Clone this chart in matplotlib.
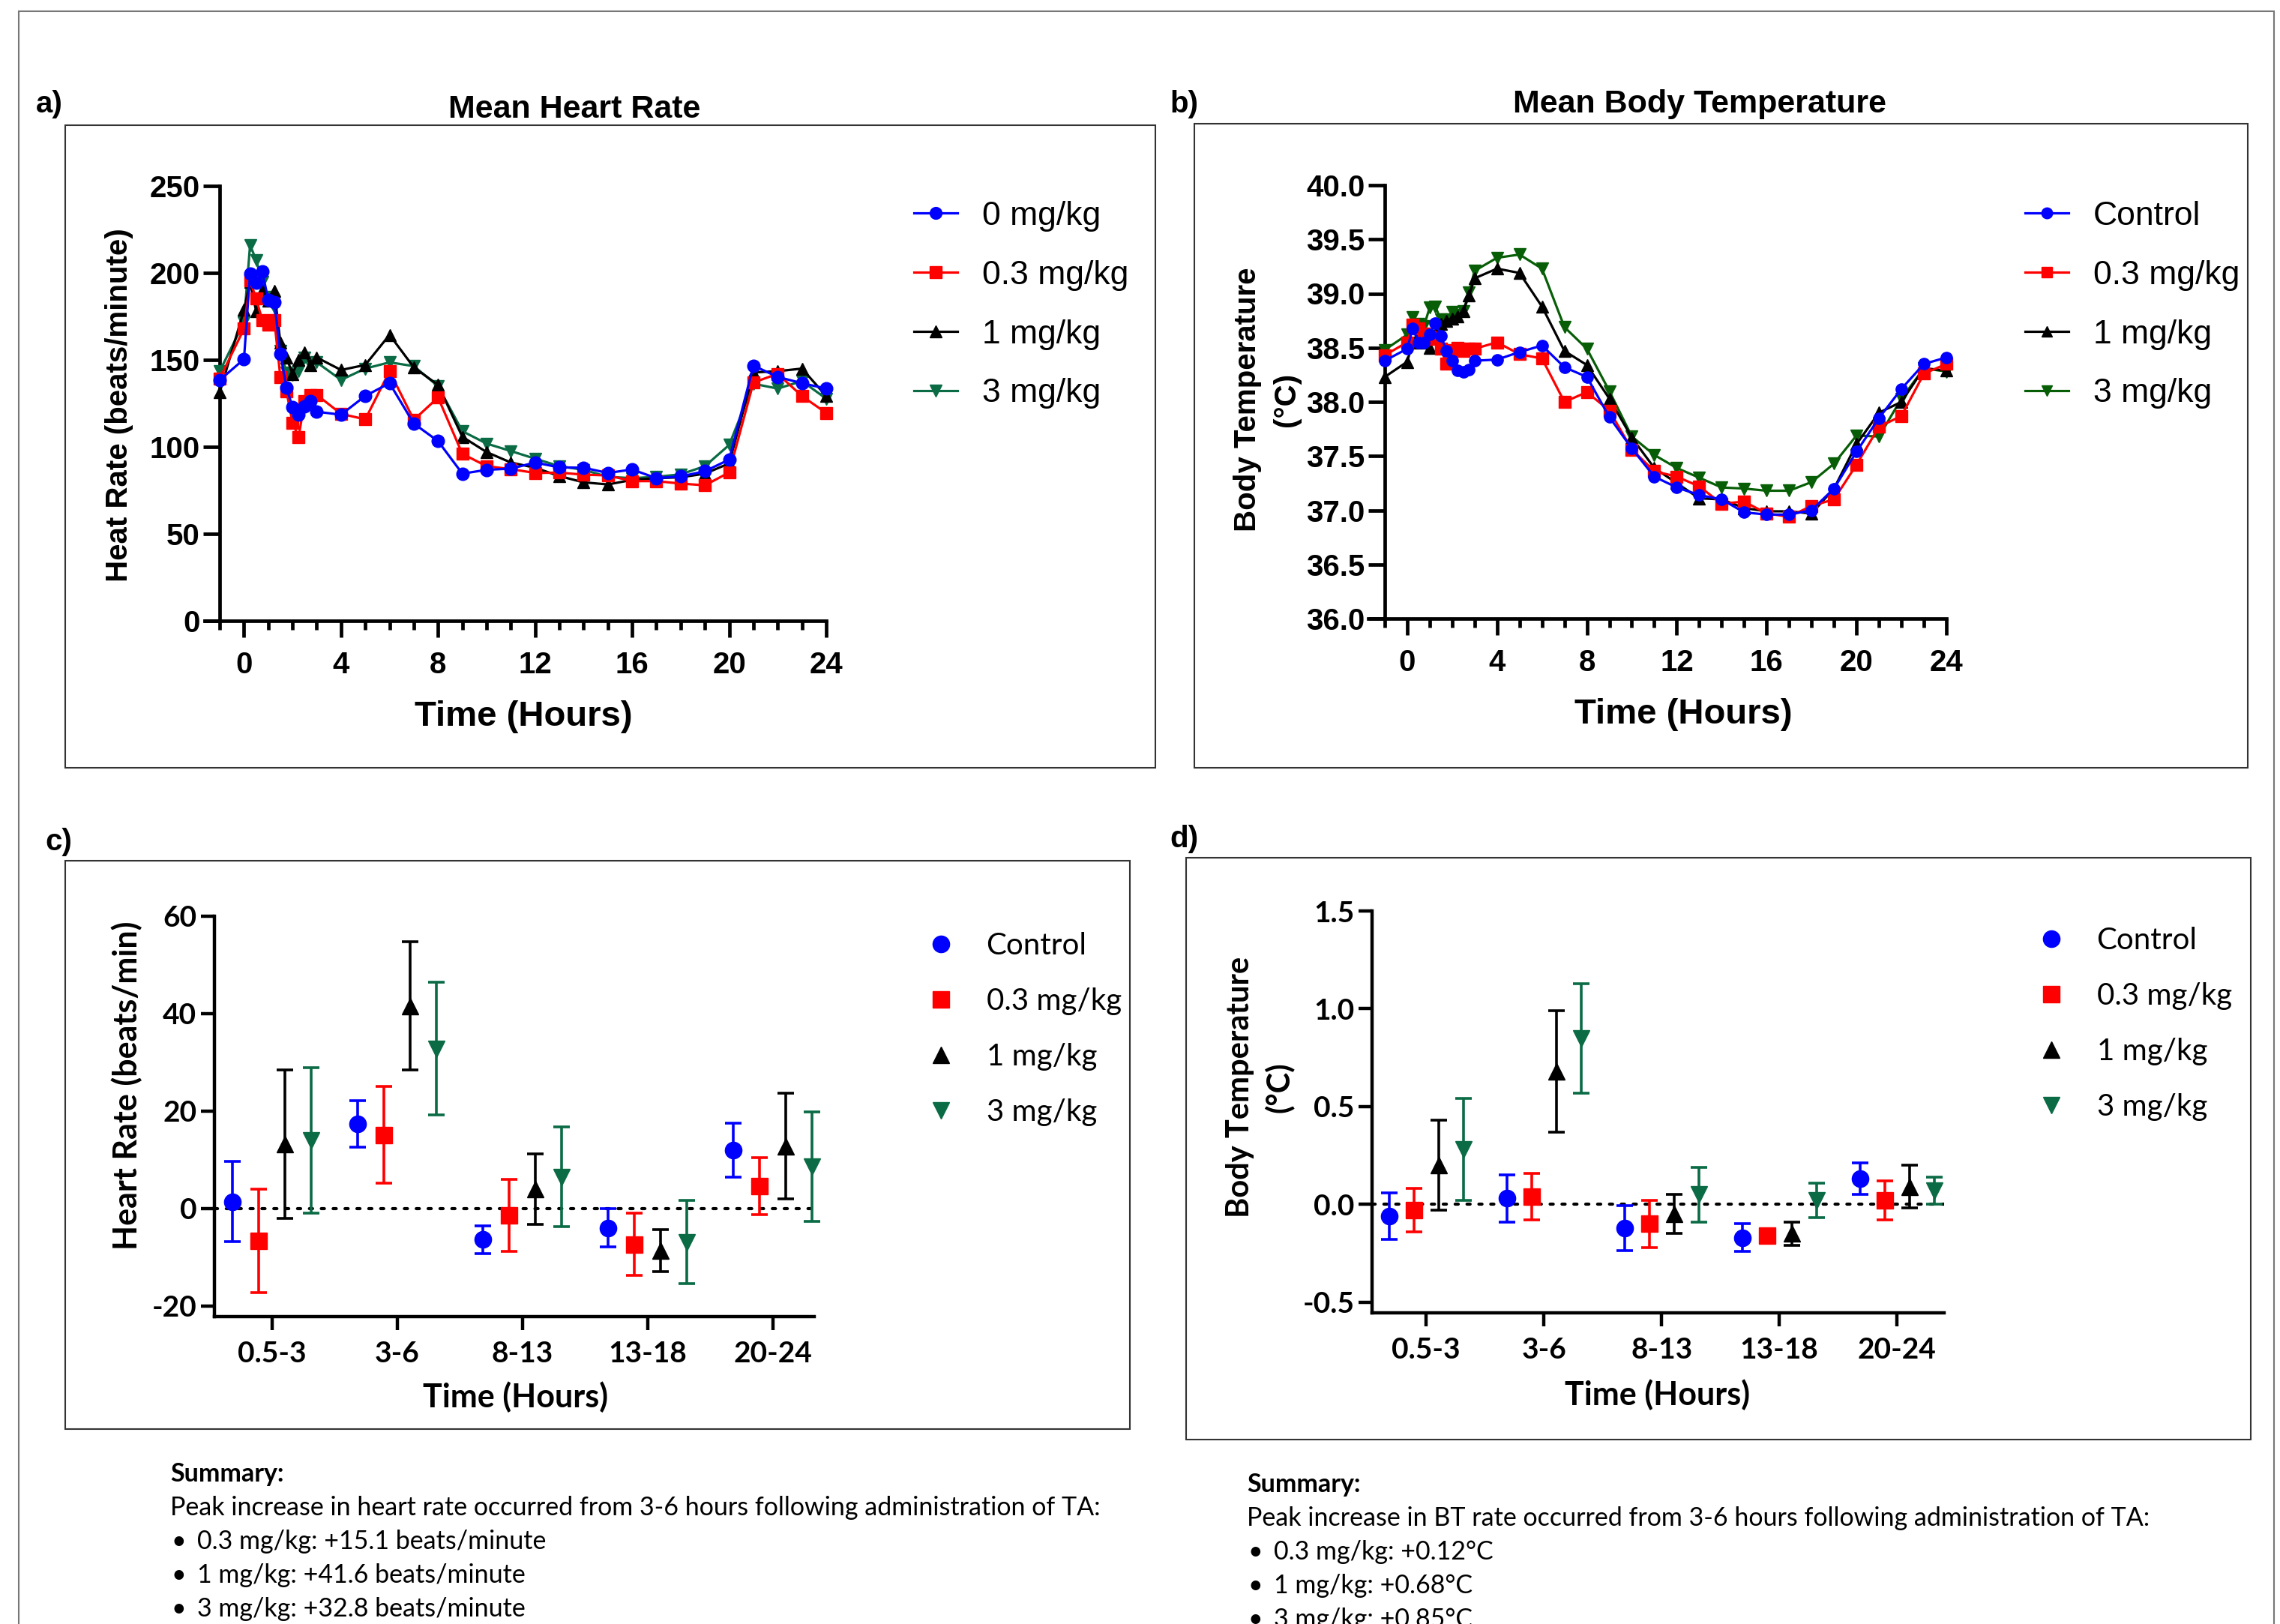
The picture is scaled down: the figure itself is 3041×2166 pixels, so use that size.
import matplotlib
matplotlib.use('Agg')
import matplotlib.pyplot as plt
from matplotlib.lines import Line2D
from matplotlib.patches import Rectangle
from matplotlib.ticker import MultipleLocator, FormatStrFormatter

plt.rcParams['axes.unicode_minus'] = False

W, H = 3041, 2166
def fx(x): return x / W
def fy(y): return 1 - y / H

# ---------------- data ----------------
time_h = [-1, 0, 0.25, 0.5, 0.75, 1, 1.25, 1.5, 1.75, 2, 2.25, 2.5, 2.75, 3,
          4, 5, 6, 7, 8, 9, 10, 11, 12, 13, 14, 15, 16, 17, 18, 19, 20, 21, 22, 23, 24]

hr_0 = [138.4, 150.4, 199.6, 194.5, 201, 184.5, 183.3, 153.6, 134, 122.9, 118.5, 123.4, 126.3, 120.2,
        118.5, 129.3, 136.6, 113.4, 103.3, 84.6, 86.8, 87.5, 91, 88.2, 88, 85, 87, 82, 83, 86, 92.7,
        146.7, 140.2, 136.6, 133.5]
hr_03 = [139.2, 167.9, 195.6, 185.3, 173, 170.2, 173, 140, 132, 114, 105.5, 126.3, 129.9, 129.9,
         119, 115.8, 143.5, 115.5, 128.4, 96, 88.9, 87.2, 85, 85.2, 84, 83.6, 80.3, 80.3, 78.9, 77.9, 85.3,
         137, 142, 129.2, 119.5]
hr_1 = [131.3, 178.7, 195, 178, 190, 184, 189.5, 160, 151.4, 142, 150, 154.3, 147.1, 151.4,
        144.2, 147.1, 164.4, 145.7, 135.6, 105.8, 97, 91, 88, 83.2, 79.6, 78.4, 81, 82, 82.5, 84.6, 90.5,
        142.8, 143.5, 145, 129.2]
hr_3 = [143.5, 171.6, 216, 207.5, 195, 186, 180, 155, 142.8, 141.4, 143.5, 151.4, 147.1, 148.6,
        138.5, 145, 148.6, 146.4, 134.9, 109, 101.9, 97.6, 93.2, 88.9, 86.8, 82.8, 82, 82.8, 84.2, 88.9, 101.1,
        136.3, 133.5, 137.8, 127.7]

bt_0 = [38.38, 38.49, 38.68, 38.55, 38.55, 38.62, 38.73, 38.61, 38.47, 38.38, 38.29, 38.28, 38.30, 38.38,
        38.39, 38.46, 38.52, 38.32, 38.23, 37.86, 37.57, 37.31, 37.21, 37.14, 37.10, 36.98, 36.96, 36.96,
        37.00, 37.20, 37.54, 37.85, 38.12, 38.35, 38.41]
bt_03 = [38.43, 38.55, 38.71, 38.68, 38.63, 38.60, 38.58, 38.49, 38.35, 38.48, 38.50, 38.47, 38.49, 38.49,
         38.55, 38.44, 38.40, 38.00, 38.09, 37.92, 37.56, 37.36, 37.31, 37.22, 37.06, 37.08, 36.97, 36.94,
         37.04, 37.10, 37.42, 37.77, 37.87, 38.26, 38.35]
bt_1 = [38.23, 38.37, 38.55, 38.62, 38.55, 38.50, 38.62, 38.72, 38.75, 38.77, 38.79, 38.84, 38.98, 39.14,
        39.23, 39.19, 38.88, 38.47, 38.34, 38.03, 37.67, 37.39, 37.25, 37.11, 37.10, 37.02, 36.99, 36.99,
        36.97, 37.20, 37.61, 37.90, 38.00, 38.31, 38.29]
bt_3 = [38.48, 38.62, 38.78, 38.72, 38.70, 38.87, 38.88, 38.76, 38.76, 38.83, 38.80, 38.84, 39.01, 39.21,
        39.33, 39.36, 39.23, 38.69, 38.49, 38.10, 37.68, 37.51, 37.39, 37.30, 37.21, 37.20, 37.18, 37.18,
        37.26, 37.43, 37.69, 37.68, 38.03, 38.31, 38.28]

periods = ['0.5-3', '3-6', '8-13', '13-18', '20-24']

dhr_ctrl = [1.4, 17.4, -6.4, -4.0, 12.0]
dhr_ctrl_err = [8.2, 4.8, 2.9, 3.9, 5.5]
dhr_03 = [-6.6, 15.1, -1.4, -7.4, 4.6]
dhr_03_err = [10.6, 9.9, 7.4, 6.4, 5.8]
dhr_1 = [13.2, 41.6, 4.0, -8.7, 12.8]
dhr_1_err = [15.2, 13.2, 7.2, 4.3, 10.9]
dhr_3 = [14.0, 32.8, 6.5, -6.9, 8.6]
dhr_3_err = [14.9, 13.6, 10.3, 8.5, 11.2]

dbt_ctrl = [-0.06, 0.03, -0.12, -0.17, 0.13]
dbt_ctrl_err = [0.12, 0.12, 0.115, 0.07, 0.08]
dbt_03 = [-0.03, 0.04, -0.10, -0.16, 0.02]
dbt_03_err = [0.11, 0.12, 0.12, 0.02, 0.10]
dbt_1 = [0.20, 0.68, -0.05, -0.15, 0.09]
dbt_1_err = [0.23, 0.31, 0.10, 0.06, 0.11]
dbt_3 = [0.28, 0.85, 0.05, 0.02, 0.07]
dbt_3_err = [0.26, 0.28, 0.14, 0.09, 0.07]

labels_a = ['0 mg/kg', '0.3 mg/kg', '1 mg/kg', '3 mg/kg']
labels_b = ['Control', '0.3 mg/kg', '1 mg/kg', '3 mg/kg']

summary_hr_head = 'Peak increase in heart rate occurred from 3-6 hours following administration of TA:'
summary_hr_items = ['0.3 mg/kg: +15.1 beats/minute', '1 mg/kg: +41.6 beats/minute', '3 mg/kg: +32.8 beats/minute']
summary_bt_head = 'Peak increase in BT rate occurred from 3-6 hours following administration of TA:'
summary_bt_items = ['0.3 mg/kg: +0.12°C', '1 mg/kg: +0.68°C', '3 mg/kg: +0.85°C']

colors = ['#0000FF', '#FF0000', '#000000', '#0A6B45']
colors_b = ['#0000FF', '#FF0000', '#000000', '#075E07']
markers = ['o', 's', '^', 'v']

ARIAL = ['Liberation Sans', 'DejaVu Sans']
CAL = ['Lato', 'DejaVu Sans']

fig = plt.figure(figsize=(W / 100, H / 100), dpi=100)

def axes_px(left, top, right, bottom):
    return fig.add_axes([fx(left), fy(bottom), (right - left) / W, (bottom - top) / H])

def box(x0, y0, x1, y1, color='#333333', lw=1.5):
    fig.add_artist(Rectangle((fx(x0), fy(y1)), (x1 - x0) / W, (y1 - y0) / H,
                             transform=fig.transFigure, fill=False, ec=color, lw=lw))

# outer border and panel boxes
box(25, 15, 3033, 2230, color='#777777', lw=1.5)
box(87, 167, 1541, 1024)
box(1593, 165, 2998, 1024)
box(87, 1148, 1507, 1906)
box(1582, 1144, 3002, 1920)

# panel letters & titles
for s, x, y in [('a)', 48, 150), ('b)', 1560, 150), ('c)', 60, 1134), ('d)', 1560, 1130)]:
    fig.text(fx(x), fy(y), s, fontsize=29, fontweight='bold', family=ARIAL, ha='left', va='baseline')
fig.text(fx(766), fy(157), 'Mean Heart Rate', fontsize=31, fontweight='bold', family=ARIAL,
         ha='center', va='baseline')
fig.text(fx(2267), fy(150), 'Mean Body Temperature', fontsize=31, fontweight='bold', family=ARIAL,
         ha='center', va='baseline')

def style_time_axes(ax, xmin):
    ax.set_xlim(xmin, 24)
    for sp in ['top', 'right']:
        ax.spines[sp].set_visible(False)
    ax.spines['left'].set_position(('data', -1))
    for sp in ['left', 'bottom']:
        ax.spines[sp].set_linewidth(3.4)
    ax.xaxis.set_major_locator(MultipleLocator(4))
    ax.xaxis.set_minor_locator(MultipleLocator(1))
    ax.tick_params(axis='both', which='major', direction='out', length=16, width=3.4)
    ax.tick_params(axis='x', which='minor', direction='out', length=8.5, width=3.4)
    ax.tick_params(axis='x', which='major', pad=13)
    ax.tick_params(axis='y', which='major', pad=3)
    for lab in ax.get_xticklabels() + ax.get_yticklabels():
        lab.set_fontfamily(ARIAL)
        lab.set_fontweight('bold')
        lab.set_fontsize(29)
    ax.patch.set_alpha(0)

def time_legend(ax, handles, labels, anchor):
    ax.legend(handles, labels, loc='upper left', bbox_to_anchor=anchor,
              bbox_transform=fig.transFigure, frameon=False, borderpad=0, borderaxespad=0,
              handlelength=1.3, handletextpad=0.75, labelspacing=0.85,
              prop={'family': ARIAL, 'size': 32}, markerscale=0.95)

# ---------------- panel a ----------------
axa = axes_px(273, 248, 1102, 828)
hr_series = [hr_0, hr_03, hr_1, hr_3]
handles = []
for i in [3, 2, 1, 0]:
    h, = axa.plot(time_h, hr_series[i], color=colors[i], marker=markers[i], ms=12, lw=2.3,
                  clip_on=False, zorder=3 + (3 - i))
    handles.append(h)
handles = handles[::-1]
axa.set_ylim(0, 250)
axa.yaxis.set_major_locator(MultipleLocator(50))
style_time_axes(axa, -1.62)
time_legend(axa, handles, labels_a, (fx(1219), fy(268)))

fig.text(fx(698), fy(968), 'Time (Hours)', fontsize=34, fontweight='bold', family=ARIAL,
         ha='center', va='baseline')
fig.text(fx(159), fy(540), 'Heat Rate (beats/minute)', fontsize=29, fontweight='bold', family=ARIAL,
         ha='center', va='center', rotation=90)

# ---------------- panel b ----------------
axb = axes_px(1825, 247, 2596, 825)
bt_series = [bt_0, bt_03, bt_1, bt_3]
handles = []
for i in [3, 2, 1, 0]:
    h, = axb.plot(time_h, bt_series[i], color=colors_b[i], marker=markers[i], ms=11, lw=2.3,
                  clip_on=False, zorder=3 + (3 - i))
    handles.append(h)
handles = handles[::-1]
axb.set_ylim(36.0, 40.0)
axb.yaxis.set_major_locator(MultipleLocator(0.5))
axb.yaxis.set_major_formatter(FormatStrFormatter('%.1f'))
style_time_axes(axb, -1.73)
time_legend(axb, handles, labels_b, (fx(2701), fy(268)))
fig.text(fx(2245), fy(965), 'Time (Hours)', fontsize=34, fontweight='bold', family=ARIAL,
         ha='center', va='baseline')
fig.text(fx(1690), fy(533), 'Body Temperature\n(°C)', fontsize=29, fontweight='bold', family=ARIAL,
         ha='center', va='center', rotation=90, linespacing=1.45)

# ---------------- panels c & d ----------------
offsets = [-0.315, -0.105, 0.105, 0.315]

def style_cat_axes(ax, xmax):
    ax.set_xlim(-0.46, xmax)
    for sp in ['top', 'right']:
        ax.spines[sp].set_visible(False)
    for sp in ['left', 'bottom']:
        ax.spines[sp].set_linewidth(3.2)
    ax.set_xticks(range(len(periods)))
    ax.set_xticklabels(periods)
    ax.tick_params(axis='both', direction='out', length=13, width=3.2)
    ax.tick_params(axis='x', pad=10)
    ax.tick_params(axis='y', pad=4)
    for lab in ax.get_xticklabels() + ax.get_yticklabels():
        lab.set_fontfamily(CAL)
        lab.set_fontweight('bold')
        lab.set_fontsize(28)
    ax.axhline(0, color='black', lw=3.0, linestyle=(0, (1, 2.8)), dash_capstyle='round', zorder=1)
    ax.patch.set_alpha(0)

def draw_errs(ax, means, errs, names, leg_anchor, ms=16):
    hs = []
    for i in range(4):
        xs = [k + offsets[i] for k in range(len(periods))]
        ax.errorbar(xs, means[i], yerr=errs[i], fmt=markers[i], color=colors[i], ms=ms,
                    capsize=8, elinewidth=2.6, capthick=2.6, clip_on=False, zorder=3)
        hs.append(Line2D([], [], ls='none', marker=markers[i], color=colors[i], ms=ms))
    ax.legend(hs, names, loc='upper left', bbox_to_anchor=leg_anchor, bbox_transform=fig.transFigure,
              frameon=False, borderpad=0, borderaxespad=0, handlelength=1.0, handletextpad=1.0,
              labelspacing=0.92, prop={'family': CAL, 'size': 29})

axc = axes_px(286, 1222, 1086, 1756)
axc.set_ylim(-22.2, 60)
axc.set_yticks([-20, 0, 20, 40, 60])
style_cat_axes(axc, 4.33)
draw_errs(axc, [dhr_ctrl, dhr_03, dhr_1, dhr_3], [dhr_ctrl_err, dhr_03_err, dhr_1_err, dhr_3_err],
          labels_b, (fx(1235), fy(1243)))
fig.text(fx(688), fy(1877), 'Time (Hours)', fontsize=31, fontweight='bold', family=CAL,
         ha='center', va='baseline')
fig.text(fx(169), fy(1448), 'Heart Rate (beats/min)', fontsize=31, fontweight='bold', family=CAL,
         ha='center', va='center', rotation=90)

axd = axes_px(1830, 1215, 2593, 1751)
axd.set_ylim(-0.555, 1.5)
axd.set_yticks([-0.5, 0.0, 0.5, 1.0, 1.5])
axd.yaxis.set_major_formatter(FormatStrFormatter('%.1f'))
style_cat_axes(axd, 4.4)
draw_errs(axd, [dbt_ctrl, dbt_03, dbt_1, dbt_3], [dbt_ctrl_err, dbt_03_err, dbt_1_err, dbt_3_err],
          labels_b, (fx(2716), fy(1236)))
fig.text(fx(2211), fy(1874), 'Time (Hours)', fontsize=31, fontweight='bold', family=CAL,
         ha='center', va='baseline')
fig.text(fx(1680), fy(1450), 'Body Temperature\n(°C)', fontsize=30, fontweight='bold', family=CAL,
         ha='center', va='center', rotation=90, linespacing=1.4)

# ---------------- summaries ----------------
def summary(x, y0, head, items, fs=24.5, step=45):
    fig.text(fx(x), fy(y0), 'Summary:', fontsize=fs, fontweight='bold', family=CAL, va='baseline')
    fig.text(fx(x), fy(y0 + step), head, fontsize=fs, family=CAL, va='baseline')
    for j, it in enumerate(items):
        yy = y0 + step * (j + 2)
        fig.text(fx(x + 2), fy(yy), '•', fontsize=fs, family=CAL, va='baseline')
        fig.text(fx(x + 36), fy(yy), it, fontsize=fs, family=CAL, va='baseline')

summary(227, 1976, summary_hr_head, summary_hr_items)
summary(1663, 1990, summary_bt_head, summary_bt_items)

fig.savefig('out.png', dpi=100, facecolor='white')
